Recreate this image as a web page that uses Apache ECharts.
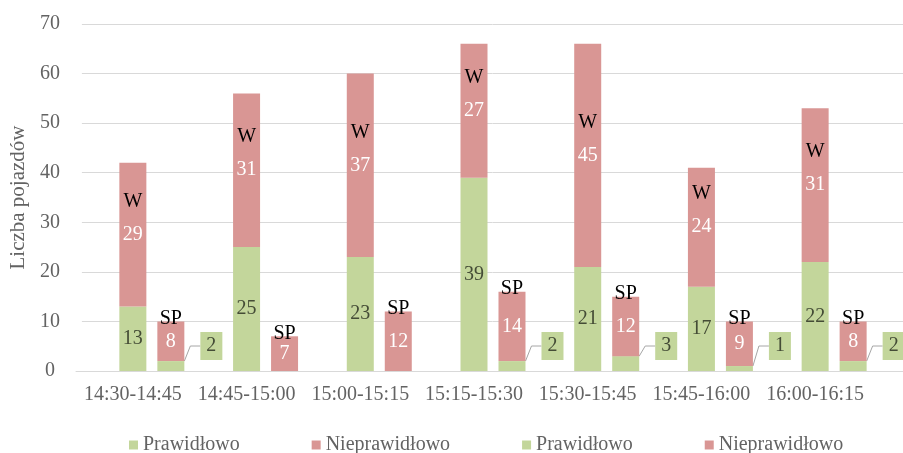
<!DOCTYPE html>
<html>
<head>
<meta charset="utf-8">
<script src="https://cdn.jsdelivr.net/npm/echarts@6/dist/echarts.min.js"></script>
<style>
  html, body { margin: 0; padding: 0; background: #ffffff; }
  #chart { width: 903px; height: 453px; }
</style>
</head>
<body>
<div id="chart"></div>
<script>
// Vehicle counts per 15-minute interval, split into two groups (W and SP)
const categories = ['14:30-14:45', '14:45-15:00', '15:00-15:15', '15:15-15:30', '15:30-15:45', '15:45-16:00', '16:00-16:15'];
const wCorrect    = [13, 25, 23, 39, 21, 17, 22];
const wIncorrect  = [29, 31, 37, 27, 45, 24, 31];
const spCorrect   = [2, 0, 0, 2, 3, 1, 2];
const spIncorrect = [8, 7, 12, 14, 12, 9, 8];
const yTicks = [0, 10, 20, 30, 40, 50, 60, 70];
const legendLabels = ['Prawidłowo', 'Nieprawidłowo', 'Prawidłowo', 'Nieprawidłowo'];
const groupNames = ['W', 'SP'];
const axisTitle = 'Liczba pojazdów';

const FONT = 'Liberation Serif';
const GREEN = '#c3d69b';
const RED = '#d99694';
const GRID_COLOR = '#d9d9d9';
const AXIS_TEXT = '#636363';
const DARK_LABEL = '#444c36';

const yMin = yTicks[0];
const yMax = yTicks[yTicks.length - 1];
const yStep = yTicks[1] - yTicks[0];

// series keys: legend text + group, so both groups keep their own legend entry
const key = (i, g) => legendLabels[i] + '|' + g;

const barCommon = {
  type: 'bar',
  xAxisIndex: 0,
  yAxisIndex: 0,
  barWidth: 27,
  barGap: '40.7%'
};

const chart = echarts.init(document.getElementById('chart'), null, { renderer: 'canvas' });

chart.setOption({
  animation: false,
  backgroundColor: '#ffffff',
  textStyle: { fontFamily: FONT },
  grid: [
    { left: 76, top: 24, bottom: 82, width: 796 },   // bars
    { left: 76, top: 24, bottom: 82, right: 0 }      // value gridlines across the full width
  ],
  xAxis: [
    {
      type: 'category',
      gridIndex: 0,
      data: categories,
      axisLine: { show: true, lineStyle: { color: GRID_COLOR, width: 1 } },
      axisTick: { show: false },
      axisLabel: { interval: 0, color: AXIS_TEXT, fontSize: 20, fontFamily: FONT, margin: 14 }
    },
    { type: 'category', gridIndex: 1, data: categories, show: false }
  ],
  yAxis: [
    {
      type: 'value', gridIndex: 0, min: yMin, max: yMax, interval: yStep,
      axisLabel: { show: false }, axisLine: { show: false }, axisTick: { show: false },
      splitLine: { show: false }
    },
    {
      type: 'value', gridIndex: 1, min: yMin, max: yMax, interval: yStep,
      name: axisTitle,
      nameLocation: 'middle',
      nameGap: 46,
      nameTextStyle: { color: AXIS_TEXT, fontSize: 21, fontFamily: FONT },
      axisLine: { show: false },
      axisTick: { show: false },
      axisLabel: { color: AXIS_TEXT, fontSize: 20, fontFamily: FONT, align: 'center', margin: 32 },
      splitLine: { show: true, lineStyle: { color: GRID_COLOR, width: 1 } }
    }
  ],
  legend: {
    data: [key(0, 'W'), key(1, 'W'), key(2, 'SP'), key(3, 'SP')],
    formatter: n => n.split('|')[0],
    icon: 'rect',
    itemWidth: 9,
    itemHeight: 9,
    itemGap: 72,
    left: 124,
    top: 430,
    textStyle: { color: AXIS_TEXT, fontSize: 20, fontFamily: FONT },
    selectedMode: false
  },
  series: [
    // empty slot on the left so the W column sits on the category centre
    Object.assign({}, barCommon, { name: 'slot', stack: 'slot', data: [] }),
    Object.assign({}, barCommon, {
      name: key(0, 'W'),
      stack: 'W',
      data: wCorrect,
      itemStyle: { color: GREEN },
      label: { show: true, position: 'inside', color: DARK_LABEL, fontSize: 20, fontFamily: FONT }
    }),
    Object.assign({}, barCommon, {
      name: key(1, 'W'),
      stack: 'W',
      data: wIncorrect,
      itemStyle: { color: RED },
      label: {
        show: true,
        position: 'inside',
        formatter: p => '{w|' + groupNames[0] + '}\n{v|' + p.value + '}\n{pad| }',
        rich: {
          w: { color: '#000000', fontSize: 20, fontFamily: FONT, lineHeight: 46 },
          v: { color: '#ffffff', fontSize: 20, fontFamily: FONT, lineHeight: 20 },
          pad: { fontSize: 20, lineHeight: 46 }
        }
      }
    }),
    Object.assign({}, barCommon, {
      name: key(2, 'SP'),
      stack: 'SP',
      data: spCorrect.map(v => v > 0 ? v : { value: v, label: { show: false } }),
      itemStyle: { color: GREEN },
      label: {
        show: true,
        color: DARK_LABEL,
        fontSize: 20,
        fontFamily: FONT,
        backgroundColor: GREEN,
        padding: [4, 6, 4, 6]
      },
      labelLine: { show: true, length2: 10, lineStyle: { color: '#a6a6a6', width: 1 } },
      labelLayout: function (p) {
        return {
          x: p.rect.x + p.rect.width + 27,
          y: p.rect.y + p.rect.height - 25,
          align: 'center',
          verticalAlign: 'middle'
        };
      }
    }),
    Object.assign({}, barCommon, {
      name: key(3, 'SP'),
      stack: 'SP',
      data: spIncorrect,
      itemStyle: { color: RED },
      label: { show: true, position: 'inside', color: '#ffffff', fontSize: 20, fontFamily: FONT }
    }),
    // group tag on top of each SP column
    Object.assign({}, barCommon, {
      name: 'tag',
      stack: 'SP',
      data: spIncorrect.map(() => 0),
      itemStyle: { color: 'rgba(0,0,0,0)' },
      label: {
        show: true, position: 'top', distance: -7,
        formatter: groupNames[1],
        color: '#000000', fontSize: 20, fontFamily: FONT
      }
    })
  ]
});
</script>
</body>
</html>
